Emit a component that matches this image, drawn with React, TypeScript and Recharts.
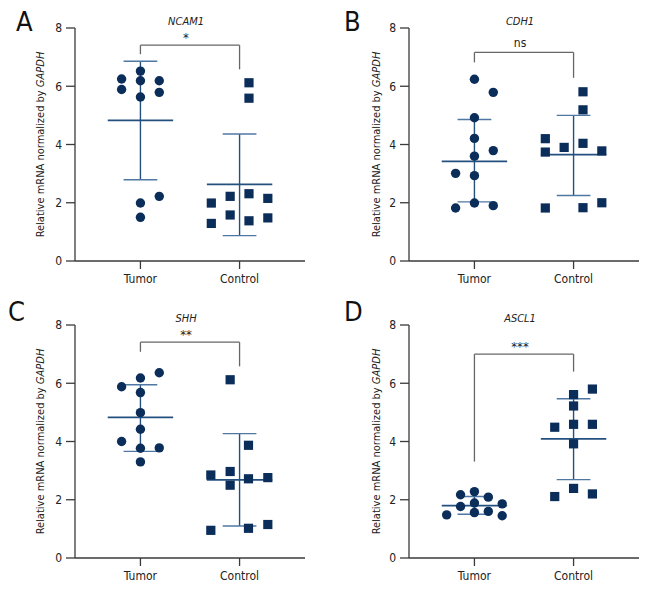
import React from 'react';
import { ScatterChart, Scatter, XAxis, YAxis, ReferenceLine, ReferenceDot } from 'recharts';

const categories = ['Tumor', 'Control'];
const yTicks = [0, 2, 4, 6, 8];
const xTicks = [0, 1];

// Panel A - NCAM1
const ncam1Tumor = [6.25, 5.89, 6.52, 6.19, 5.63, 6.19, 5.79, 2.22, 1.99, 1.5];
const ncam1TumorJitter = [-0.19, -0.19, 0, 0, 0, 0.19, 0.19, 0.19, 0, 0];
const ncam1Control = [6.12, 5.59, 1.99, 1.29, 2.22, 1.58, 2.31, 1.38, 2.15, 1.48];
const ncam1ControlJitter = [0.095, 0.095, -0.285, -0.285, -0.095, -0.095, 0.095, 0.095, 0.285, 0.285];
const ncam1TumorStats = [4.83, 6.86, 2.79]; // mean, mean+SD, mean-SD
const ncam1ControlStats = [2.63, 4.36, 0.87];
const ncam1Bracket = [7.41, 7.1, 6.58];

// Panel B - CDH1
const cdh1Tumor = [6.24, 5.79, 4.92, 4.21, 3.6, 3.79, 3.01, 2.93, 1.99, 1.9, 1.82];
const cdh1TumorJitter = [0, 0.19, 0, 0, 0, 0.19, -0.19, 0, 0, 0.19, -0.19];
const cdh1Control = [5.81, 5.19, 4.2, 3.74, 3.9, 4.04, 3.78, 1.82, 1.83, 2.0];
const cdh1ControlJitter = [0.095, 0.095, -0.285, -0.285, -0.095, 0.095, 0.285, -0.285, 0.095, 0.285];
const cdh1TumorStats = [3.42, 4.86, 2.03];
const cdh1ControlStats = [3.65, 5.0, 2.25];
const cdh1Bracket = [7.16, 6.82, 6.29];

// Panel C - SHH
const shhTumor = [6.36, 6.18, 5.88, 5.68, 4.99, 4.42, 4.0, 3.77, 3.78, 3.3];
const shhTumorJitter = [0.19, 0, -0.19, 0, 0, 0, -0.19, 0, 0.19, 0];
const shhControl = [6.12, 3.87, 2.85, 2.97, 2.5, 2.72, 2.76, 0.95, 1.02, 1.15];
const shhControlJitter = [-0.095, 0.09, -0.29, -0.095, -0.095, 0.09, 0.285, -0.29, 0.09, 0.285];
const shhTumorStats = [4.83, 5.95, 3.66];
const shhControlStats = [2.68, 4.27, 1.1];
const shhBracket = [7.41, 7.08, 6.58];

// Panel D - ASCL1
const ascl1Tumor = [2.17, 2.28, 2.09, 1.77, 1.89, 1.86, 1.48, 1.56, 1.6, 1.45];
const ascl1TumorJitter = [-0.14, 0, 0.14, -0.14, 0, 0.28, -0.28, 0, 0.14, 0.28];
const ascl1Control = [5.8, 5.61, 5.22, 4.49, 4.59, 4.59, 3.92, 2.39, 2.11, 2.2];
const ascl1ControlJitter = [0.19, 0, 0, -0.19, 0, 0.19, 0, 0, -0.19, 0.19];
const ascl1TumorStats = [1.8, 2.11, 1.5];
const ascl1ControlStats = [4.09, 5.47, 2.69];
const ascl1Bracket = [7.0, 3.31, 6.4];

const FONT = '"Liberation Sans Narrow", "DejaVu Sans Condensed", "Liberation Sans", sans-serif';
const NAVY = '#0b2d5a';
const BAR = '#24507f';
const CAP = '#4f77a3';
const AXIS = '#3a3a3a';
const BRACKET = '#666666';
const TEXT = '#222222';

const Circle = (p: any) => <circle cx={p.cx} cy={p.cy} r={4.7} fill={NAVY} />;
const Square = (p: any) => <rect x={p.cx - 4.6} y={p.cy - 4.6} width={9.2} height={9.2} fill={NAVY} />;

function statLines(c: number, stats: number[], key: string) {
  const [mean, hi, lo] = stats;
  const hw = 0.33;
  const cw = 0.17;
  return [
    <ReferenceLine key={key + 'v'} segment={[{ x: c, y: lo }, { x: c, y: hi }]} stroke={BAR} strokeWidth={1.4} />,
    <ReferenceLine key={key + 'h'} segment={[{ x: c - cw, y: hi }, { x: c + cw, y: hi }]} stroke={CAP} strokeWidth={1.4} />,
    <ReferenceLine key={key + 'l'} segment={[{ x: c - cw, y: lo }, { x: c + cw, y: lo }]} stroke={CAP} strokeWidth={1.4} />,
    <ReferenceLine key={key + 'm'} segment={[{ x: c - hw, y: mean }, { x: c + hw, y: mean }]} stroke={BAR} strokeWidth={1.8} />,
  ];
}

const YLabel = (props: any) => {
  const vb = props.viewBox || {};
  const cx = (vb.x || 0) + 40;
  const cy = (vb.y || 0) + (vb.height || 0) / 2;
  return (
    <text x={cx} y={cy} transform={`rotate(-90 ${cx} ${cy})`} textAnchor="middle" dominantBaseline="central" fontSize={11} fill={TEXT} fontFamily={FONT}>
      Relative mRNA normalized by <tspan fontStyle="italic">GAPDH</tspan>
    </text>
  );
};

function Panel(props: any) {
  const { gene, tumor, tumorJitter, control, controlJitter, tumorStats, controlStats, bracket, sig, margin, yWidth } = props;
  const tumorData = tumor.map((v: number, i: number) => ({ x: 0 + tumorJitter[i], y: v }));
  const controlData = control.map((v: number, i: number) => ({ x: 1 + controlJitter[i], y: v }));
  const [bTop, bLeft, bRight] = bracket;
  const isStars = sig.indexOf('*') >= 0;
  return (
    <ScatterChart width={336} height={300} margin={margin}>
      <XAxis
        type="number"
        dataKey="x"
        domain={[-0.66, 1.66]}
        ticks={xTicks}
        tickFormatter={(v: number) => categories[v]}
        allowDataOverflow
        height={30}
        stroke={AXIS}
        strokeWidth={1.3}
        tickSize={8}
        tickMargin={5}
        tick={{ fill: TEXT, fontSize: 12, fontFamily: FONT }}
      />
      <YAxis
        type="number"
        dataKey="y"
        domain={[0, 8]}
        ticks={yTicks}
        width={yWidth}
        stroke={AXIS}
        strokeWidth={1.3}
        tickSize={9}
        tickMargin={4}
        tick={{ fill: TEXT, fontSize: 12, fontFamily: FONT }}
        label={<YLabel />}
      />
      {statLines(0, tumorStats, 't')}
      {statLines(1, controlStats, 'c')}
      <ReferenceLine segment={[{ x: 0, y: bLeft }, { x: 0, y: bTop }]} stroke={BRACKET} strokeWidth={1.3} />
      <ReferenceLine segment={[{ x: 0, y: bTop }, { x: 1, y: bTop }]} stroke={BRACKET} strokeWidth={1.3} />
      <ReferenceLine segment={[{ x: 1, y: bTop }, { x: 1, y: bRight }]} stroke={BRACKET} strokeWidth={1.3} />
      <Scatter data={tumorData} shape={Circle} isAnimationActive={false} />
      <Scatter data={controlData} shape={Square} isAnimationActive={false} />
      <ReferenceDot
        x={0.46}
        y={bTop + 0.3}
        r={0}
        ifOverflow="visible"
        shape={(p: any) => (
          <text x={p.cx} y={p.cy} dy={isStars ? '0.45em' : '0.3em'} textAnchor="middle" fontSize={isStars ? 13 : 12} fill={TEXT} fontFamily={FONT}>
            {sig}
          </text>
        )}
      />
      <ReferenceDot
        x={0.46}
        y={8.25}
        r={0}
        ifOverflow="visible"
        shape={(p: any) => (
          <text x={p.cx} y={p.cy} dy="0.35em" textAnchor="middle" fontSize={11} fontStyle="italic" fill={TEXT} fontFamily={FONT}>
            {gene}
          </text>
        )}
      />
    </ScatterChart>
  );
}

const letterStyle: React.CSSProperties = {
  position: 'absolute',
  fontSize: 27,
  lineHeight: '27px',
  fontFamily: FONT,
  color: '#111',
};

export default function App() {
  return (
    <div style={{ position: 'absolute', left: 0, top: 0, width: 672, height: 600, background: '#fff', fontFamily: FONT }}>
      <div style={{ position: 'absolute', left: 0, top: 0 }}>
        <Panel gene="NCAM1" tumor={ncam1Tumor} tumorJitter={ncam1TumorJitter} control={ncam1Control} controlJitter={ncam1ControlJitter}
          tumorStats={ncam1TumorStats} controlStats={ncam1ControlStats} bracket={ncam1Bracket} sig="*"
          margin={{ top: 28, right: 31, bottom: 9, left: 0 }} yWidth={75} />
      </div>
      <div style={{ position: 'absolute', left: 336, top: 0 }}>
        <Panel gene="CDH1" tumor={cdh1Tumor} tumorJitter={cdh1TumorJitter} control={cdh1Control} controlJitter={cdh1ControlJitter}
          tumorStats={cdh1TumorStats} controlStats={cdh1ControlStats} bracket={cdh1Bracket} sig="ns"
          margin={{ top: 28, right: 33, bottom: 9, left: 0 }} yWidth={73} />
      </div>
      <div style={{ position: 'absolute', left: 0, top: 300 }}>
        <Panel gene="SHH" tumor={shhTumor} tumorJitter={shhTumorJitter} control={shhControl} controlJitter={shhControlJitter}
          tumorStats={shhTumorStats} controlStats={shhControlStats} bracket={shhBracket} sig="**"
          margin={{ top: 25, right: 31, bottom: 12, left: 0 }} yWidth={75} />
      </div>
      <div style={{ position: 'absolute', left: 336, top: 300 }}>
        <Panel gene="ASCL1" tumor={ascl1Tumor} tumorJitter={ascl1TumorJitter} control={ascl1Control} controlJitter={ascl1ControlJitter}
          tumorStats={ascl1TumorStats} controlStats={ascl1ControlStats} bracket={ascl1Bracket} sig="***"
          margin={{ top: 25, right: 33, bottom: 12, left: 0 }} yWidth={73} />
      </div>
      <div style={{ ...letterStyle, left: 16, top: 8 }}>A</div>
      <div style={{ ...letterStyle, left: 344, top: 8 }}>B</div>
      <div style={{ ...letterStyle, left: 8, top: 298 }}>C</div>
      <div style={{ ...letterStyle, left: 344, top: 298 }}>D</div>
    </div>
  );
}
